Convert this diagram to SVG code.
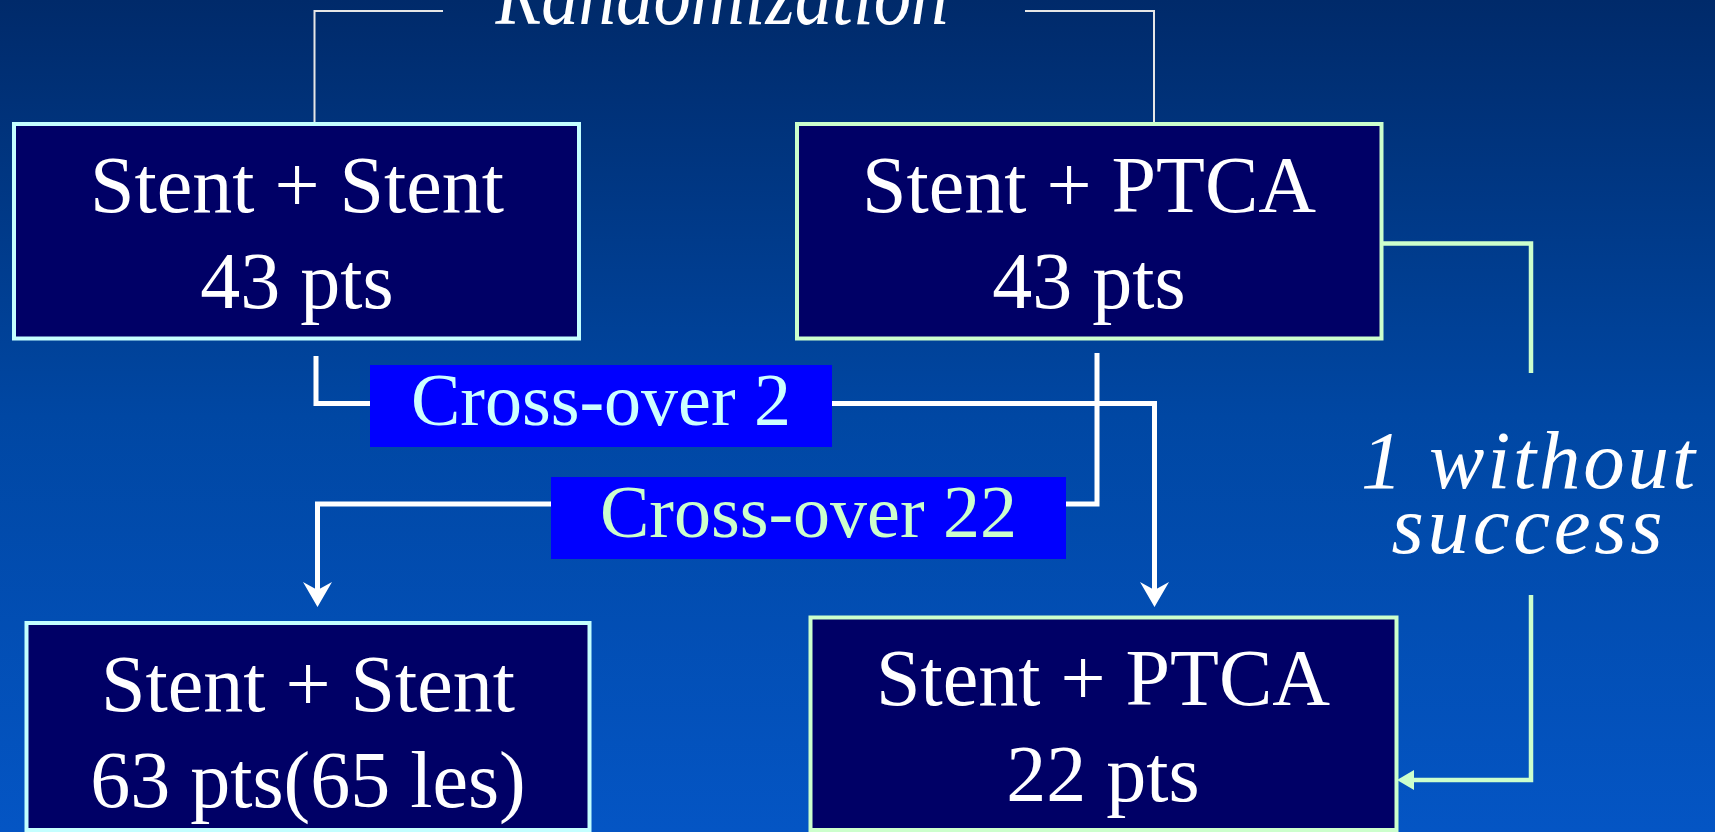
<svg xmlns="http://www.w3.org/2000/svg" width="1715" height="832" viewBox="0 0 1715 832">
<defs>
<linearGradient id="bg" x1="0" y1="0" x2="0" y2="1">
<stop offset="0" stop-color="#002a6a"/>
<stop offset="0.5" stop-color="#0047a3"/>
<stop offset="1" stop-color="#0455c4"/>
</linearGradient>
<marker id="arrW" viewBox="0 0 25 29" refX="16" refY="14.5" markerWidth="25" markerHeight="29" markerUnits="userSpaceOnUse" orient="auto">
<path d="M0,0 L25,14.5 L0,29 L8,14.5 Z" fill="#ffffff"/>
</marker>
<marker id="arrG" viewBox="0 0 17 20" refX="9" refY="10" markerWidth="17" markerHeight="20" markerUnits="userSpaceOnUse" orient="auto">
<path d="M0,0 L17,10 L0,20 Z" fill="#ccffcc"/>
</marker>
</defs>
<style>
.box{fill:#000066;stroke-width:4}
.cy{stroke:#c4ffff}
.gr{stroke:#ccffcc}
.t{font-family:"Liberation Serif","Times New Roman",serif;font-size:80px;fill:#ffffff;text-anchor:middle}
.it{font-family:"Liberation Serif","Times New Roman",serif;font-style:italic;fill:#ffffff;text-anchor:middle}
.lbl{font-family:"Liberation Serif","Times New Roman",serif;font-size:74px;text-anchor:middle}
.w{fill:none;stroke:#ffffff;stroke-width:5}
.thin{fill:none;stroke:#e6e6e6;stroke-width:2}
.g{fill:none;stroke:#ccffcc;stroke-width:4.5}
</style>
<rect x="0" y="0" width="1715" height="832" fill="url(#bg)"/>

<g id="connectors">
<polyline class="thin" points="443,11 314.5,11 314.5,122"/>
<polyline class="thin" points="1025,11 1154,11 1154,122"/>
<path class="w" d="M316,356 V403.5 H372"/>
<path class="w" d="M830,403.5 H1154.5 V598" marker-end="url(#arrW)"/>
<path class="w" d="M1097,353 V504 H1064"/>
<path class="w" d="M553,504 H317.5 V598" marker-end="url(#arrW)"/>
<path class="g" d="M1383,243.5 H1531 V373"/>
<path class="g" d="M1531,595 V780 H1405" marker-end="url(#arrG)"/>
</g>

<g id="randomization">
<text class="it" x="722" y="24" font-size="86" textLength="453" lengthAdjust="spacingAndGlyphs">Randomization</text>
</g>

<g id="box-stent-stent-43">
<rect class="box cy" x="14" y="124" width="565" height="214.5"/>
<text class="t" x="297" y="212">Stent + Stent</text>
<text class="t" x="297" y="308">43 pts</text>
</g>

<g id="box-stent-ptca-43">
<rect class="box gr" x="797" y="124" width="584.5" height="214.5"/>
<text class="t" x="1089" y="212">Stent + PTCA</text>
<text class="t" x="1089" y="308">43 pts</text>
</g>

<g id="label-crossover-2">
<rect x="370" y="365" width="462" height="82" fill="#0000ff"/>
<text class="lbl" x="601" y="425" fill="#ccffff">Cross-over 2</text>
</g>

<g id="label-crossover-22">
<rect x="551" y="477" width="515" height="82" fill="#0000ff"/>
<text class="lbl" x="808.5" y="537" fill="#ccffcc">Cross-over 22</text>
</g>

<g id="label-without-success">
<text class="it" x="1528" y="488" font-size="83" textLength="334" lengthAdjust="spacing">1 without</text>
<text class="it" x="1527" y="553" font-size="83" textLength="271" lengthAdjust="spacing">success</text>
</g>

<g id="box-stent-stent-63">
<rect class="box cy" x="26.5" y="623" width="563" height="207"/>
<text class="t" x="308" y="711">Stent + Stent</text>
<text class="t" x="308" y="807">63 pts(65 les)</text>
</g>

<g id="box-stent-ptca-22">
<rect class="box gr" x="810.5" y="617.5" width="586" height="212.5"/>
<text class="t" x="1103" y="705">Stent + PTCA</text>
<text class="t" x="1103" y="801">22 pts</text>
</g>
</svg>
